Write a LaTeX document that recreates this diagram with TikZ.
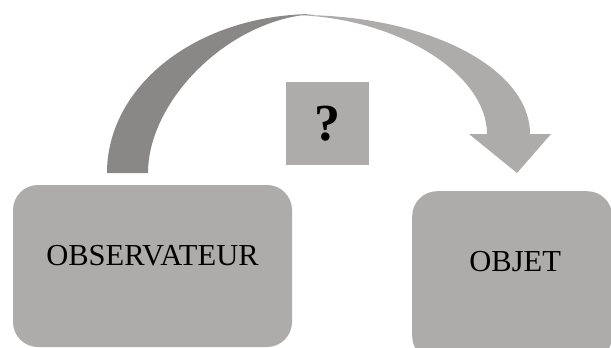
\documentclass[tikz,border=0pt]{standalone}
\usepackage{fontspec}
\setmainfont{Liberation Serif}
\usetikzlibrary{positioning}
\definecolor{boxgray}{HTML}{AEABAB}
\definecolor{ribbongray}{HTML}{8A8787}

\begin{document}
\begin{tikzpicture}[x=1pt, y=-1pt,
    box/.style={fill=boxgray, rounded corners=25pt, inner sep=0pt},
    txt/.style={font=\fontsize{30.5}{36}\selectfont}]
  \useasboundingbox (0,0) rectangle (611,348);
  \clip (0,0) rectangle (611,348);
  % Fleche courbe (dos du ruban puis face)
  \fill[ribbongray] (107,173) .. controls (107,85) and (198,14) .. (315,14)
    .. controls (230,18) and (148,100) .. (148,173) -- cycle;
  \fill[boxgray] (295,15) .. controls (427,14) and (530,68) .. (530,134)
    -- (551,134) -- (517,173) -- (469,134) -- (487,134)
    .. controls (487,75) and (400,18) .. (295,15) -- cycle;
  % Boites
  \node[box, minimum width=279pt, minimum height=162pt] (obs) at (152.5,266) {};
  \node[txt] (obsText) at ([yshift=10pt]obs.center) {OBSERVATEUR};
  \node[box, minimum width=200pt, minimum height=170pt, anchor=north west] (obj) at (412,191) {};
  \node[txt] (objText) at ([xshift=3pt, yshift=15pt]obj.center) {OBJET};
  % Question
  \node[fill=boxgray, minimum size=83pt, inner sep=0pt,
    font=\bfseries\fontsize{52}{60}\selectfont] (q) at (327.5,123.5) {?};
\end{tikzpicture}
\end{document}
